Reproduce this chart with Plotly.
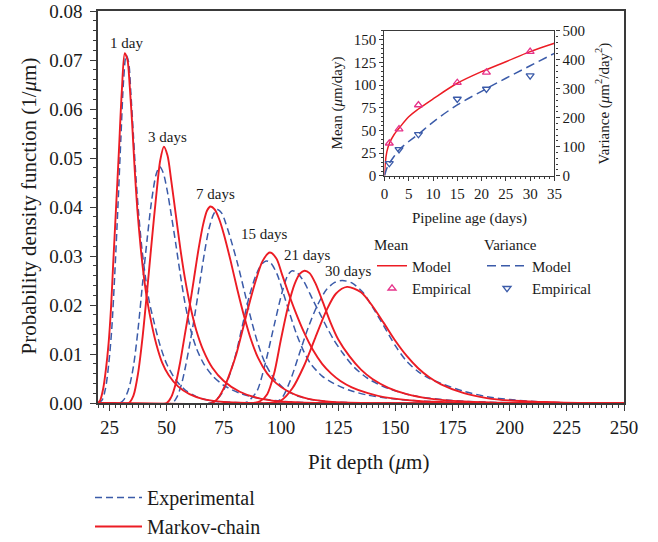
import plotly.graph_objects as go

FONT = "Liberation Serif"
INK = "#1a1a1a"
AXIS = "#3a3a3a"
RED = "#ec1c24"
BLUE = "#3b5ba9"
PINK = "#e6338a"

# ---- Pit-depth probability density functions (depth in um, pdf in 1/um) ----
ages = ["1 day", "3 days", "7 days", "15 days", "21 days", "30 days"]

# Markov-chain model
mc_1_x = [20, 21, 22.3, 23.5, 24.6, 25.7, 26.6, 27.8, 29.1, 30.4, 31.7, 32.9, 33.9, 35, 36, 37.2, 38.6, 40, 41.5, 43.5, 45.5, 48, 51, 55, 60, 66, 75, 85, 250]
mc_1_y = [0, 0.0006, 0.003, 0.007, 0.012, 0.0195, 0.028, 0.039, 0.051, 0.0635, 0.0714, 0.070, 0.0645, 0.0565, 0.048, 0.0395, 0.032, 0.026, 0.021, 0.016, 0.012, 0.0083, 0.0056, 0.0034, 0.0018, 0.0008, 0.0002, 0, 0]
mc_3_x = [20, 33.5, 35.5, 37.5, 39.5, 41.5, 43.5, 45.5, 47.2, 48.8, 50.4, 52, 54, 56, 58, 60.5, 63, 66, 70, 75, 82, 90, 100, 115, 250]
mc_3_y = [0, 0, 0.0015, 0.006, 0.0135, 0.023, 0.033, 0.0425, 0.0495, 0.0523, 0.0505, 0.0455, 0.0385, 0.0315, 0.0255, 0.0195, 0.0148, 0.0108, 0.0072, 0.0045, 0.0023, 0.001, 0.0003, 0, 0]
mc_7_x = [20, 50, 52, 54, 56, 58, 60, 62, 64, 66, 67.7, 69.2, 71, 73, 75, 78, 81, 84, 87, 90, 94, 98, 103, 110, 120, 135, 250]
mc_7_y = [0, 0, 0.0012, 0.004, 0.0085, 0.014, 0.0195, 0.0255, 0.0315, 0.0365, 0.0393, 0.0401, 0.0395, 0.0375, 0.0345, 0.029, 0.023, 0.0175, 0.0128, 0.0092, 0.006, 0.004, 0.0024, 0.0011, 0.0003, 0, 0]
mc_15_x = [20, 70, 72.5, 75.5, 78, 80.5, 83, 86, 89, 92, 95.1, 98, 100.5, 103, 106, 110, 114, 118, 122, 126, 131, 138, 145, 160, 175, 190, 250]
mc_15_y = [0, 0, 0.001, 0.0035, 0.0065, 0.01, 0.0145, 0.02, 0.025, 0.029, 0.0307, 0.0295, 0.0262, 0.0228, 0.019, 0.0145, 0.0108, 0.008, 0.006, 0.0045, 0.0032, 0.002, 0.0012, 0.0004, 0.0001, 0, 0]
mc_21_x = [20, 88, 91, 94, 97, 100, 103, 106, 108.3, 110.3, 112.5, 115, 118, 121.6, 125, 130, 135, 140, 147, 155, 165, 180, 200, 250]
mc_21_y = [0, 0, 0.0004, 0.0018, 0.006, 0.013, 0.0195, 0.0243, 0.0264, 0.027, 0.0265, 0.0245, 0.021, 0.0165, 0.013, 0.0095, 0.0068, 0.0049, 0.0031, 0.0018, 0.0009, 0.0003, 0, 0]
mc_30_x = [20, 95, 100, 105, 110, 115, 120, 124, 128.9, 135, 140, 145, 150, 155, 160, 165, 170, 180, 190, 200, 215, 230, 250]
mc_30_y = [0, 0, 0.0005, 0.003, 0.0075, 0.0133, 0.019, 0.0223, 0.0237, 0.0226, 0.0198, 0.0163, 0.0127, 0.0096, 0.0071, 0.0052, 0.0038, 0.002, 0.001, 0.0005, 0.0002, 0, 0]

# Experimental fits
ex_1_x = [20, 21.8, 23.3, 24.7, 26, 27.3, 28.7, 30, 31.2, 32.3, 33.4, 34.4, 35.5, 36.6, 37.8, 39.2, 40.8, 42.5, 44.5, 47, 50, 54, 58, 63, 70, 80, 95, 250]
ex_1_y = [0, 0.0006, 0.003, 0.008, 0.015, 0.026, 0.04, 0.054, 0.066, 0.071, 0.0695, 0.063, 0.0545, 0.046, 0.0385, 0.0315, 0.0255, 0.0205, 0.0165, 0.012, 0.008, 0.0047, 0.0027, 0.0013, 0.0004, 0.0001, 0, 0]
ex_3_x = [20, 29.5, 31.5, 33.5, 35.5, 37.5, 39.5, 41.5, 43.5, 45.5, 47, 48.5, 50.2, 52, 54, 56, 58, 60.5, 63, 66, 70, 75, 82, 90, 100, 115, 250]
ex_3_y = [0, 0, 0.0008, 0.003, 0.0075, 0.015, 0.0245, 0.0335, 0.0415, 0.0468, 0.0482, 0.047, 0.0435, 0.0385, 0.0325, 0.0262, 0.0205, 0.015, 0.0112, 0.0082, 0.0056, 0.0036, 0.002, 0.001, 0.0004, 0, 0]
ex_7_x = [20, 52.4, 54.5, 56.5, 58.5, 60.5, 62.5, 64.5, 66.5, 68.5, 70.5, 72.1, 74, 76, 78, 81, 84, 87, 90, 93, 97, 102, 108, 118, 135, 250]
ex_7_y = [0, 0, 0.0012, 0.0038, 0.008, 0.013, 0.0185, 0.0245, 0.0305, 0.0355, 0.0385, 0.0395, 0.0388, 0.0365, 0.0335, 0.0285, 0.0228, 0.017, 0.012, 0.0082, 0.005, 0.0027, 0.0013, 0.0004, 0, 0]
ex_15_x = [20, 69, 72, 74.5, 77, 80, 83, 86, 89, 91.5, 93.5, 95.5, 98.3, 101, 104, 107, 110, 113, 118, 123, 130, 138, 150, 165, 180, 195, 250]
ex_15_y = [0, 0, 0.0008, 0.0022, 0.005, 0.0095, 0.0155, 0.0215, 0.026, 0.0283, 0.029, 0.0286, 0.0263, 0.0225, 0.018, 0.0138, 0.0105, 0.008, 0.0055, 0.004, 0.0026, 0.0016, 0.0008, 0.0003, 0.0001, 0, 0]
ex_21_x = [20, 84, 86.5, 89.6, 93, 97, 100.5, 103, 104.9, 107, 110, 114, 117.3, 120, 123.1, 127, 132, 138, 145, 152, 160, 175, 195, 210, 250]
ex_21_y = [0, 0, 0.0007, 0.0025, 0.0078, 0.0158, 0.0226, 0.0261, 0.027, 0.0266, 0.0248, 0.021, 0.018, 0.0155, 0.0129, 0.0102, 0.0073, 0.005, 0.0033, 0.0022, 0.0013, 0.0005, 0.0001, 0, 0]
ex_30_x = [20, 95, 100, 104, 108, 112, 116, 120, 123.5, 126.8, 131, 136, 140, 145, 150, 155, 160, 165, 170, 180, 190, 200, 215, 230, 250]
ex_30_y = [0, 0, 0.0008, 0.0045, 0.01, 0.0155, 0.02, 0.0232, 0.0246, 0.025, 0.0245, 0.0225, 0.0196, 0.0157, 0.0117, 0.0085, 0.0064, 0.005, 0.004, 0.0024, 0.0013, 0.0007, 0.0002, 0, 0]

markov_curves = [(mc_1_x, mc_1_y), (mc_3_x, mc_3_y), (mc_7_x, mc_7_y),
                 (mc_15_x, mc_15_y), (mc_21_x, mc_21_y), (mc_30_x, mc_30_y)]
exp_curves = [(ex_1_x, ex_1_y), (ex_3_x, ex_3_y), (ex_7_x, ex_7_y),
              (ex_15_x, ex_15_y), (ex_21_x, ex_21_y), (ex_30_x, ex_30_y)]

# curve labels, placed above each peak (data coordinates)
label_x = [32.5, 50.4, 71.4, 92.8, 111.6, 129.5]
label_y = [0.0735, 0.0543, 0.0427, 0.0345, 0.0302, 0.0269]

# ---- Inset: mean and variance versus pipeline age ----
age_emp = [1, 3, 7, 15, 21, 30]
mean_emp = [35.8, 51.5, 78.0, 102.6, 114.1, 136.9]
var_emp = [42.8, 91, 142.8, 264.5, 299, 345]

mean_model_t = [0, 0.2, 0.5, 1, 2, 3, 5, 7, 10, 15, 20, 25, 30, 35]
mean_model = [0, 15.5, 26.5, 35.5, 45.5, 52.3, 65, 73.6, 84.7, 102, 114.8, 125.8, 136.9, 146.1]
var_model_t = [0, 0.5, 1, 2, 3, 5, 7, 10, 15, 20, 25, 30, 35]
var_model = [0, 26, 43, 67, 89, 118, 143, 185, 244, 291, 336, 379, 422]

# ---- figure geometry (pixels) ----
W, H = 658, 542
PL, PR, PT, PB = 97.5, 623.6, 11, 403     # main plot box


def px(xpix):
    """horizontal pixel -> paper fraction"""
    return (xpix - PL) / (PR - PL)


def py(ypix):
    """vertical pixel (from top) -> paper fraction"""
    return (PB - ypix) / (PB - PT)


fig = go.Figure()

for i, (xs, ys) in enumerate(exp_curves):
    fig.add_trace(go.Scatter(
        x=xs, y=ys, mode="lines", name="Experimental", legendgroup="exp",
        showlegend=(i == 0), legendrank=1,
        line=dict(color=BLUE, width=1.5, dash="7px,4px", shape="spline", smoothing=0.8),
        hoverinfo="skip"))
for i, (xs, ys) in enumerate(markov_curves):
    fig.add_trace(go.Scatter(
        x=xs, y=ys, mode="lines", name="Markov-chain", legendgroup="mc",
        showlegend=(i == 0), legendrank=2,
        line=dict(color=RED, width=1.9, shape="spline", smoothing=0.8),
        hoverinfo="skip"))

# inset traces
fig.add_trace(go.Scatter(
    x=mean_model_t, y=mean_model, mode="lines", name="Model",
    xaxis="x2", yaxis="y2", legend="legend2", legendrank=1,
    line=dict(color=RED, width=1.5, shape="spline", smoothing=1)))
fig.add_trace(go.Scatter(
    x=age_emp, y=mean_emp, mode="markers", name="Empirical",
    xaxis="x2", yaxis="y2", legend="legend2", legendrank=2,
    marker=dict(symbol="triangle-up-open", size=7, color=PINK, line=dict(width=1.3, color=PINK))))
fig.add_trace(go.Scatter(
    x=var_model_t, y=var_model, mode="lines", name="Model",
    xaxis="x2", yaxis="y3", legend="legend3", legendrank=1,
    line=dict(color=BLUE, width=1.5, dash="9px,5px", shape="spline", smoothing=1)))
fig.add_trace(go.Scatter(
    x=age_emp, y=var_emp, mode="markers", name="Empirical",
    xaxis="x2", yaxis="y3", legend="legend3", legendrank=2,
    marker=dict(symbol="triangle-down-open", size=7, color=BLUE, line=dict(width=1.3, color=BLUE))))

for txt, lx, ly in zip(ages, label_x, label_y):
    fig.add_annotation(x=lx, y=ly, xref="x", yref="y", text=txt, showarrow=False,
                       font=dict(family=FONT, size=15, color=INK))

tick_font = dict(family=FONT, size=19, color=INK)
title_font = dict(family=FONT, size=21, color=INK)
inset_font = dict(family=FONT, size=15, color=INK)

# axis titles
axis_titles = [
    ("Pit depth (<i>μ</i>m)", px(368), py(462), 0, title_font),
    ("Probability density function (1/<i>μ</i>m)", px(28), py(206), -90, title_font),
    ("Pipeline age (days)", px(469), py(219), 0, inset_font),
    ("Mean (<i>μ</i>m/day)", px(337), py(103), -90, inset_font),
    ("Variance (<i>μ</i>m<sup>2</sup>/day<sup>2</sup>)", px(602), py(103), -90, inset_font),
]
for txt, ax_, ay_, ang, fnt in axis_titles:
    fig.add_annotation(x=ax_, y=ay_, xref="paper", yref="paper", text=txt, textangle=ang,
                       showarrow=False, xanchor="center", yanchor="middle", font=fnt)

fig.update_layout(
    width=W, height=H,
    margin=dict(l=PL, r=W - PR, t=PT, b=H - PB, autoexpand=False),
    paper_bgcolor="white", plot_bgcolor="rgba(0,0,0,0)",
    font=dict(family=FONT, color=INK),
    xaxis=dict(
        domain=[0, 1], range=[20, 250], tick0=25, dtick=25, automargin=False,
        ticks="outside", ticklen=6, tickwidth=1.2, tickcolor=AXIS,
        minor=dict(dtick=2.5, tick0=25, ticks="outside", ticklen=3, tickcolor=AXIS),
        showline=True, linecolor=AXIS, linewidth=1.5, mirror=True,
        showgrid=False, zeroline=False, tickfont=tick_font),
    yaxis=dict(
        domain=[0, 1], range=[0, 0.08], dtick=0.01, tickformat=".2f", automargin=False,
        ticks="outside", ticklen=6, tickwidth=1.2, tickcolor=AXIS, ticklabelstandoff=4,
        minor=dict(dtick=0.002, ticks="outside", ticklen=3, tickcolor=AXIS),
        showline=True, linecolor=AXIS, linewidth=1.5, mirror=True,
        showgrid=False, zeroline=False, tickfont=tick_font),
    xaxis2=dict(
        domain=[px(384), px(554)], anchor="y2", range=[0, 35], dtick=5, automargin=False,
        ticks="outside", ticklen=4, tickcolor=AXIS,
        minor=dict(dtick=1, ticks="outside", ticklen=2, tickcolor=AXIS),
        showline=True, linecolor=AXIS, linewidth=1.3, mirror=True,
        showgrid=False, zeroline=False, tickfont=inset_font),
    yaxis2=dict(
        domain=[py(175.7), py(30.7)], anchor="x2", range=[0, 160],
        tickvals=[0, 25, 50, 75, 100, 125, 150],
        automargin=False, ticks="outside", ticklen=4, tickcolor=AXIS,
        minor=dict(dtick=5, ticks="outside", ticklen=2, tickcolor=AXIS),
        showline=True, linecolor=AXIS, linewidth=1.3,
        showgrid=False, zeroline=False, tickfont=inset_font),
    yaxis3=dict(
        overlaying="y2", anchor="x2", side="right", range=[0, 500], dtick=100, automargin=False,
        ticks="outside", ticklen=4, tickcolor=AXIS,
        minor=dict(dtick=20, ticks="outside", ticklen=2, tickcolor=AXIS),
        showline=True, linecolor=AXIS, linewidth=1.3,
        showgrid=False, zeroline=False, tickfont=inset_font),
    legend=dict(
        xref="container", yref="container",
        x=90 / W, y=1 - 478 / H, xanchor="left", yanchor="top",
        font=dict(family=FONT, size=20, color=INK), tracegroupgap=0,
        bgcolor="rgba(0,0,0,0)", itemwidth=47),
    legend2=dict(
        xref="container", yref="container",
        x=372 / W, y=1 - 230 / H, xanchor="left", yanchor="top",
        title=dict(text="Mean", side="top", font=inset_font),
        font=inset_font, bgcolor="rgba(0,0,0,0)", itemwidth=30),
    legend3=dict(
        xref="container", yref="container",
        x=482 / W, y=1 - 230 / H, xanchor="left", yanchor="top",
        title=dict(text="Variance", side="top", font=inset_font),
        font=inset_font, bgcolor="rgba(0,0,0,0)", itemwidth=40),
)

fig.write_html("out.html")
